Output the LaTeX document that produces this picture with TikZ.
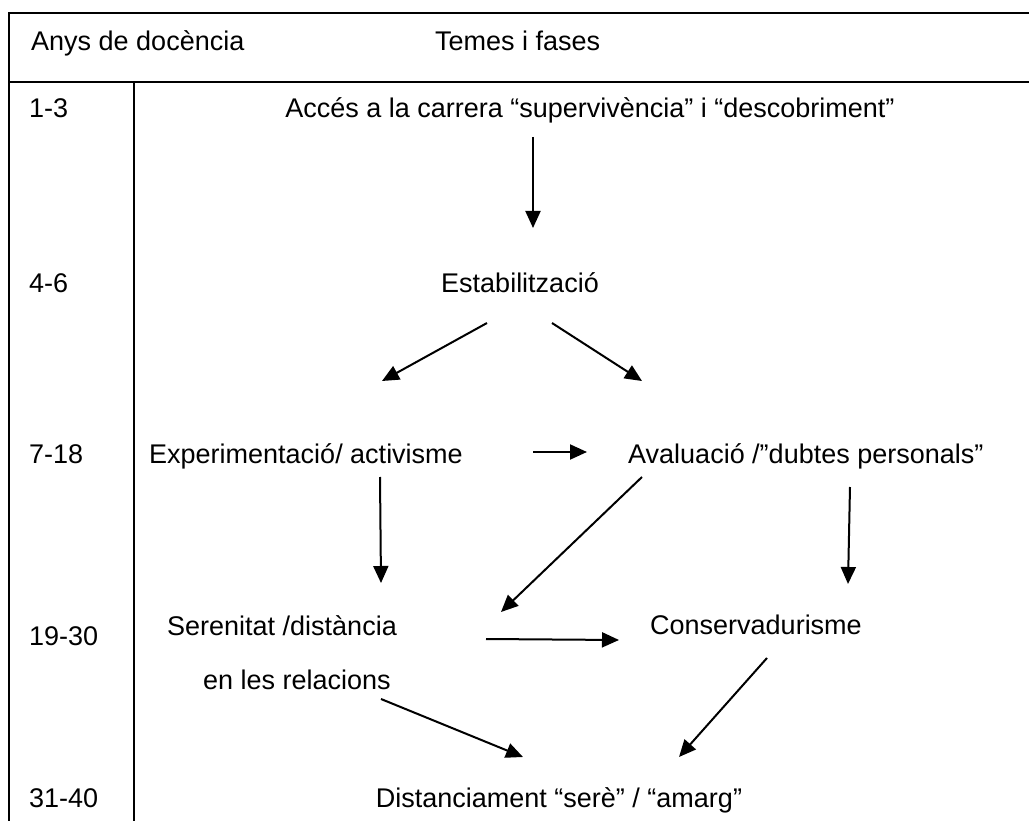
\documentclass[tikz,border=0pt]{standalone}
\usepackage{fontspec}
\setmainfont{Liberation Sans}
\usetikzlibrary{arrows.meta}
\begin{document}
\begin{tikzpicture}[x=1pt,y=-1pt,
  txt/.style={inner sep=0pt, font=\fontsize{27}{32}\selectfont, anchor=base},
  yr/.style={txt, anchor=base west},
  rule/.style={line width=2pt},
  link/.style={line width=2pt, -{Triangle[length=17pt,width=15pt]}}]
\useasboundingbox (0,0) rectangle (1029,821);
\fill[white] (0,0) rectangle (1029,821);

% table rules
\draw[rule] (1029,13) -- (9,13) -- (9,821);
\draw[rule] (9,82) -- (1029,82);
\draw[rule] (134,82) -- (134,821);

% header
\node[yr] (hyears) at (31,51) {Anys de docència};
\node[yr] (hthemes) at (435,51) {Temes i fases};

% years column
\node[yr] (y1) at (29,118) {1-3};
\node[yr] (y2) at (29,293) {4-6};
\node[yr] (y3) at (29,463) {7-18};
\node[yr] (y4) at (29,645) {19-30};
\node[yr] (y5) at (29,807) {31-40};

% phases
\node[txt] (acces) at (590,118) {Accés a la carrera “supervivència” i “descobriment”};
\node[txt] (estab) at (520,293) {Estabilització};
\node[txt] (exper) at (306,463) {Experimentació/ activisme};
\node[yr]  (aval) at (628,463) {Avaluació /”dubtes personals”};
\node[txt] (seren) at (282,635) {Serenitat /distància};
\node[txt] (seren2) at (297,689) {en les relacions};
\node[yr]  (conserv) at (650,634) {Conservadurisme};
\node[txt] (dist) at (559,807) {Distanciament “serè” / “amarg”};

% arrow end points
\coordinate (p1a) at (533,137); \coordinate (p1b) at (533,228);
\coordinate (p2a) at (487,323); \coordinate (p2b) at (382,381);
\coordinate (p3a) at (552,323); \coordinate (p3b) at (642,381);
\coordinate (p4a) at (533,452); \coordinate (p4b) at (587,452);
\coordinate (p5a) at (380,477); \coordinate (p5b) at (381,583);
\coordinate (p6a) at (642,477); \coordinate (p6b) at (501,612);
\coordinate (p7a) at (850,487); \coordinate (p7b) at (848,584);
\coordinate (p8a) at (486,639); \coordinate (p8b) at (619,640);
\coordinate (p9a) at (381,699); \coordinate (p9b) at (523,757);
\coordinate (p10a) at (767,658); \coordinate (p10b) at (679,757);

% arrows
\draw[link] (p1a) -- (p1b);
\draw[link] (p2a) -- (p2b);
\draw[link] (p3a) -- (p3b);
\draw[link] (p4a) -- (p4b);
\draw[link] (p5a) -- (p5b);
\draw[link] (p6a) -- (p6b);
\draw[link] (p7a) -- (p7b);
\draw[link] (p8a) -- (p8b);
\draw[link] (p9a) -- (p9b);
\draw[link] (p10a) -- (p10b);
\end{tikzpicture}
\end{document}
